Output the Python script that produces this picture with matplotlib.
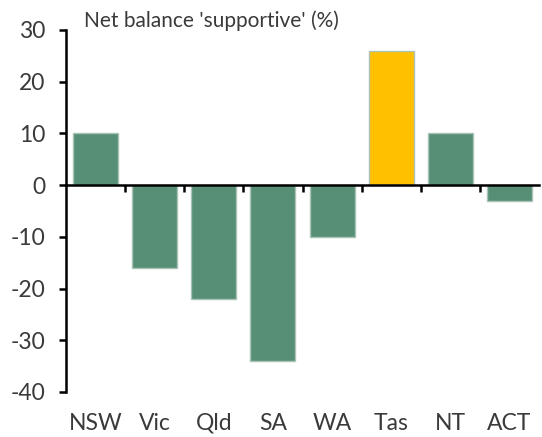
import matplotlib
matplotlib.use("Agg")
import matplotlib.pyplot as plt
import numpy as np

categories = ["NSW", "Vic", "Qld", "SA", "WA", "Tas", "NT", "ACT"]
values = [10, -16, -22, -34, -10, 26, 10, -3]
highlight = "Tas"
yticks = [30, 20, 10, 0, -10, -20, -30, -40]
title = "Net balance 'supportive' (%)"

green = "#568E76"
yellow = "#FFC000"
edge = "#A9C3B6"
text_col = "#3A3A3A"

plt.rcParams['font.family'] = ['Lato', 'DejaVu Sans']

fig = plt.figure(figsize=(5.42, 4.37), dpi=100)
ax = fig.add_axes([66/542, 1-392/437, 473/542, (392-30)/437])

x = np.arange(len(categories))
colors = [yellow if c == highlight else green for c in categories]
ax.bar(x, values, width=0.76, color=colors, edgecolor=edge, linewidth=1.0, zorder=2)

ax.set_xlim(-0.5, len(categories) - 0.5)
ax.set_ylim(-40, 30)
ax.set_yticks(yticks)
ax.set_yticklabels([str(v) for v in yticks], fontsize=16.5, color=text_col)
ax.tick_params(axis='y', direction='out', length=5, width=1.8, color='black', pad=10)

for s in ['top', 'right']:
    ax.spines[s].set_visible(False)
ax.spines['left'].set_linewidth(1.8)
ax.spines['bottom'].set_position(('data', 0))
ax.spines['bottom'].set_linewidth(1.8)
ax.spines['bottom'].set_zorder(3)

boundaries = np.arange(0.5, len(categories) - 0.5, 1.0)
ax.set_xticks(boundaries)
ax.set_xticklabels([])
ax.tick_params(axis='x', direction='out', length=5, width=1.8, color='black')

sec = ax.secondary_xaxis(0)
sec.set_xticks(x)
sec.set_xticklabels(categories, fontsize=16.5, color=text_col)
sec.tick_params(axis='x', length=0, pad=15)
sec.spines['bottom'].set_visible(False)

fig.text(84/542, 1-27/437, title, fontsize=15, color=text_col, ha='left', va='baseline')

fig.savefig("out.png", dpi=100)
